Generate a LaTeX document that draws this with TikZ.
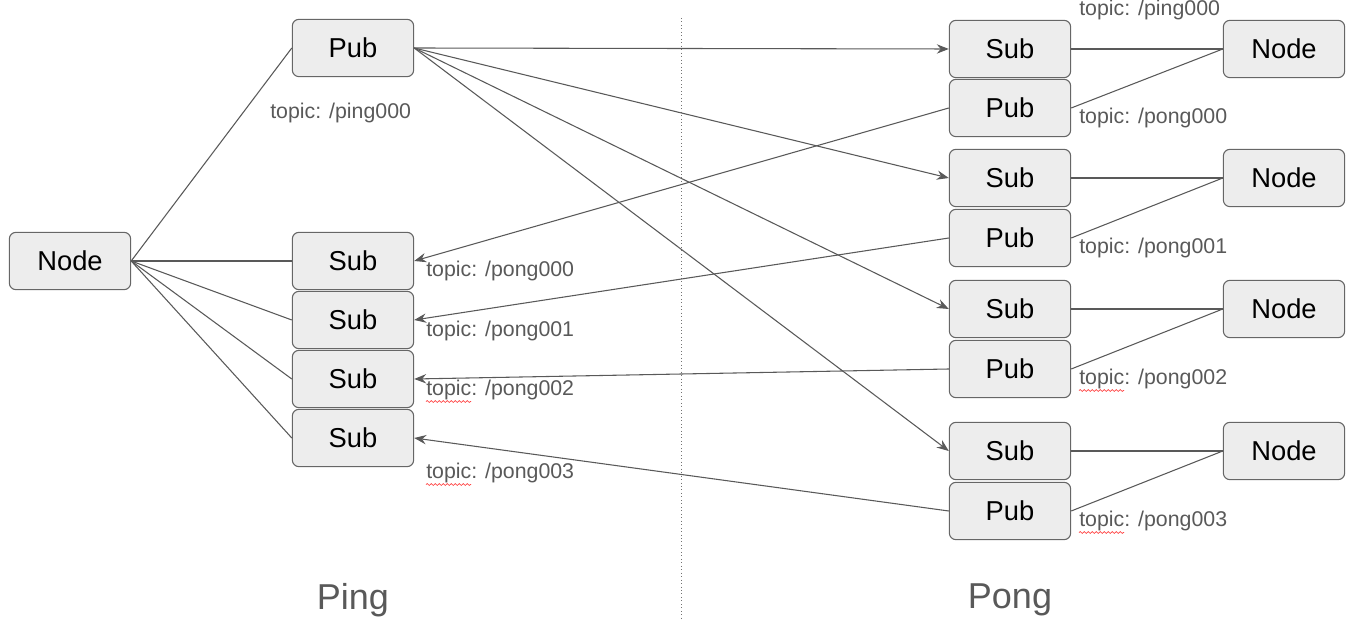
\documentclass[tikz,border=0pt]{standalone}
\usepackage{fontspec}
\setmainfont{Liberation Sans}
\usetikzlibrary{arrows.meta,decorations.pathmorphing}
\begin{document}
\begin{tikzpicture}[x=0.75pt, y=-0.75pt,
  box/.style={draw=black!60, fill=black!7, rounded corners=5pt, line width=0.8pt,
    minimum width=91pt, minimum height=43pt, inner sep=0pt, font=\fontsize{20.5}{22}\selectfont},
  topic/.style={anchor=west, inner sep=0pt, text=black!65, font=\fontsize{16}{18}\selectfont},
  side/.style={text=black!65, font=\fontsize{27}{30}\selectfont},
  wire/.style={draw=black!65, line width=0.8pt},
  squiggle/.style={draw=red!80, line width=0.5pt, decorate,
    decoration={snake, amplitude=0.7pt, segment length=3pt}},
  >={Stealth[length=9pt, width=7pt, inset=3pt]}]
  \useasboundingbox (0, 0) rectangle (1365, 630);
  % ping side
  \node [box] (lnode) at (70, 261) {Node};
  \node [box] (lpub) at (353, 48) {Pub};
  \node [box] (lsub0) at (353, 261) {Sub};
  \node [box] (lsub1) at (353, 320) {Sub};
  \node [box] (lsub2) at (353, 379) {Sub};
  \node [box] (lsub3) at (353, 438) {Sub};
  % pong side
  \node [box] (rsub0) at (1010, 49) {Sub};
  \node [box] (rpub0) at (1010, 108) {Pub};
  \node [box] (rsub1) at (1010, 178) {Sub};
  \node [box] (rpub1) at (1010, 238) {Pub};
  \node [box] (rsub2) at (1010, 309) {Sub};
  \node [box] (rpub2) at (1010, 369) {Pub};
  \node [box] (rsub3) at (1010, 451) {Sub};
  \node [box] (rpub3) at (1010, 511) {Pub};
  \node [box] (rnode0) at (1284, 49) {Node};
  \node [box] (rnode1) at (1284, 178) {Node};
  \node [box] (rnode2) at (1284, 309) {Node};
  \node [box] (rnode3) at (1284, 451) {Node};
  % topics
  \node [topic] (tping) at (270, 113) {topic: /ping000};
  \node [topic] (tlp0) at (426, 271) {topic: /pong000};
  \node [topic] (tlp1) at (426, 331) {topic: /pong001};
  \node [topic] (tlp2) at (426, 390) {topic: /pong002};
  \node [topic] (tlp3) at (426, 473) {topic: /pong003};
  \node [topic] (trping) at (1079, 10) {topic: /ping000};
  \node [topic] (trp0) at (1079, 118) {topic: /pong000};
  \node [topic] (trp1) at (1079, 248) {topic: /pong001};
  \node [topic] (trp2) at (1079, 379) {topic: /pong002};
  \node [topic] (trp3) at (1079, 521) {topic: /pong003};
  \draw [squiggle] ([yshift=-4.5pt]tlp2.base west) -- ++(45, 0);
  \draw [squiggle] ([yshift=-4.5pt]tlp3.base west) -- ++(45, 0);
  \draw [squiggle] ([yshift=-4.5pt]trp2.base west) -- ++(45, 0);
  \draw [squiggle] ([yshift=-4.5pt]trp3.base west) -- ++(45, 0);
  % sides
  \node [side] (ping) at (353, 600) {Ping};
  \node [side] (pong) at (1010, 600) {Pong};
  \coordinate (divtop) at (681, 18);
  \coordinate (divbot) at (681, 620);
  \draw [black!55, line width=0.6pt, dotted] (divtop) to (divbot);
  % node to endpoints
  \draw [wire] (lnode.east) to (lpub.west);
  \draw [wire] (lnode.east) to (lsub0.west);
  \draw [wire] (lnode.east) to (lsub1.west);
  \draw [wire] (lnode.east) to (lsub2.west);
  \draw [wire] (lnode.east) to (lsub3.west);
  \draw [wire] (rsub0.east) to (rnode0.west);
  \draw [wire] (rpub0.east) to (rnode0.west);
  \draw [wire] (rsub1.east) to (rnode1.west);
  \draw [wire] (rpub1.east) to (rnode1.west);
  \draw [wire] (rsub2.east) to (rnode2.west);
  \draw [wire] (rpub2.east) to (rnode2.west);
  \draw [wire] (rsub3.east) to (rnode3.west);
  \draw [wire] (rpub3.east) to (rnode3.west);
  % messages
  \draw [wire, ->] (lpub.east) to (rsub0.west);
  \draw [wire, ->] (lpub.east) to (rsub1.west);
  \draw [wire, ->] (lpub.east) to (rsub2.west);
  \draw [wire, ->] (lpub.east) to (rsub3.west);
  \draw [wire, ->] (rpub0.west) to (lsub0.east);
  \draw [wire, ->] (rpub1.west) to (lsub1.east);
  \draw [wire, ->] (rpub2.west) to (lsub2.east);
  \draw [wire, ->] (rpub3.west) to (lsub3.east);
\end{tikzpicture}
\end{document}
